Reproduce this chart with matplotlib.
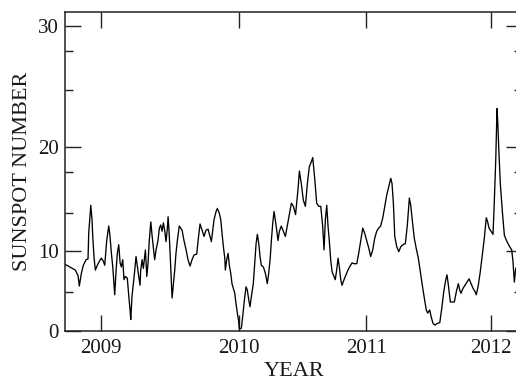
import numpy as np
import matplotlib
matplotlib.use("Agg")
import matplotlib.pyplot as plt
from matplotlib.ticker import FixedLocator, NullLocator

# ---- data (decimal year, sunspot number) ----
years = [
    2008.745, 2008.816, 2008.836, 2008.845, 2008.860, 2008.874, 2008.894, 2008.908,
    2008.913, 2008.928, 2008.937, 2008.942, 2008.952, 2008.961, 2008.975, 2008.990,
    2009.004, 2009.019, 2009.029, 2009.043, 2009.058, 2009.067, 2009.077, 2009.087,
    2009.096, 2009.101, 2009.111, 2009.120, 2009.130, 2009.140, 2009.149, 2009.159,
    2009.168, 2009.178, 2009.192, 2009.202, 2009.212, 2009.217, 2009.226, 2009.236,
    2009.246, 2009.255, 2009.265, 2009.275, 2009.284, 2009.289, 2009.299, 2009.308,
    2009.318, 2009.323, 2009.333, 2009.342, 2009.351, 2009.362, 2009.371, 2009.380,
    2009.390, 2009.400, 2009.414, 2009.424, 2009.434, 2009.443, 2009.453, 2009.463,
    2009.472, 2009.482, 2009.487, 2009.496, 2009.506, 2009.516, 2009.525, 2009.535,
    2009.544, 2009.554, 2009.568, 2009.578, 2009.588, 2009.602, 2009.617, 2009.631,
    2009.646, 2009.660, 2009.675, 2009.694, 2009.704, 2009.718, 2009.733, 2009.747,
    2009.761, 2009.776, 2009.790, 2009.800, 2009.810, 2009.819, 2009.834, 2009.843,
    2009.858, 2009.868, 2009.877, 2009.887, 2009.897, 2009.901, 2009.911, 2009.921,
    2009.930, 2009.940, 2009.949, 2009.959, 2009.969, 2009.978, 2009.988, 2009.998,
    2010.002, 2010.018, 2010.029, 2010.039, 2010.055, 2010.065, 2010.076, 2010.086,
    2010.097, 2010.112, 2010.123, 2010.134, 2010.144, 2010.155, 2010.165, 2010.175,
    2010.191, 2010.207, 2010.222, 2010.233, 2010.244, 2010.254, 2010.265, 2010.275,
    2010.285, 2010.296, 2010.306, 2010.317, 2010.332, 2010.348, 2010.364, 2010.379,
    2010.395, 2010.411, 2010.427, 2010.444, 2010.463, 2010.474, 2010.489, 2010.505,
    2010.521, 2010.537, 2010.552, 2010.568, 2010.579, 2010.595, 2010.610, 2010.626,
    2010.642, 2010.657, 2010.668, 2010.678, 2010.689, 2010.699, 2010.709, 2010.720,
    2010.731, 2010.746, 2010.756, 2010.767, 2010.778, 2010.788, 2010.799, 2010.809,
    2010.825, 2010.840, 2010.856, 2010.872, 2010.888, 2010.903, 2010.925, 2010.940,
    2010.956, 2010.972, 2010.987, 2011.003, 2011.019, 2011.035, 2011.051, 2011.067,
    2011.083, 2011.099, 2011.115, 2011.132, 2011.148, 2011.164, 2011.180, 2011.196,
    2011.206, 2011.217, 2011.228, 2011.244, 2011.260, 2011.276, 2011.292, 2011.313,
    2011.329, 2011.345, 2011.356, 2011.370, 2011.385, 2011.401, 2011.417, 2011.433,
    2011.449, 2011.465, 2011.481, 2011.492, 2011.508, 2011.519, 2011.535, 2011.551,
    2011.567, 2011.589, 2011.605, 2011.621, 2011.637, 2011.647, 2011.658, 2011.674,
    2011.690, 2011.706, 2011.722, 2011.738, 2011.749, 2011.759, 2011.775, 2011.791,
    2011.808, 2011.824, 2011.840, 2011.856, 2011.872, 2011.882, 2011.898, 2011.914,
    2011.930, 2011.946, 2011.962, 2011.973, 2011.984, 2012.000, 2012.016, 2012.026,
    2012.038, 2012.048, 2012.054, 2012.064, 2012.075, 2012.091, 2012.107, 2012.128,
    2012.150, 2012.166, 2012.176, 2012.187, 2012.198, 2012.215,
]
sunspots = [
    8.3, 7.6, 6.9, 5.6, 7.2, 8.2, 8.9, 9.0,
    11.7, 14.4, 13.0, 11.4, 9.1, 7.6, 8.2, 8.7,
    9.1, 8.7, 8.2, 11.0, 12.4, 11.4, 9.7, 8.0,
    5.7, 4.5, 7.6, 9.7, 10.6, 8.5, 8.0, 8.9,
    6.4, 6.8, 6.6, 4.5, 2.6, 1.4, 4.3, 5.9,
    7.6, 9.3, 8.0, 6.8, 5.7, 7.6, 8.9, 7.8,
    9.3, 10.1, 6.8, 8.5, 11.0, 12.8, 11.5, 10.4,
    8.9, 10.1, 11.0, 12.2, 12.5, 11.9, 12.7, 11.9,
    10.9, 12.2, 13.3, 11.4, 8.0, 4.1, 5.7, 7.6,
    9.7, 11.0, 12.4, 12.2, 12.0, 11.0, 10.1, 8.9,
    8.1, 8.9, 9.5, 9.6, 11.0, 12.6, 12.0, 11.4,
    12.0, 12.1, 11.4, 10.9, 12.0, 13.0, 13.8, 14.1,
    13.6, 13.0, 11.7, 10.4, 9.1, 7.6, 8.9, 9.7,
    8.2, 7.2, 5.9, 5.3, 4.7, 3.4, 2.2, 1.1,
    0.2, 0.3, 1.8, 3.4, 5.5, 5.1, 3.9, 3.0,
    4.3, 5.9, 8.5, 10.7, 11.6, 10.7, 9.3, 8.2,
    8.0, 7.2, 5.9, 7.2, 8.9, 11.0, 12.7, 13.8,
    13.0, 12.0, 11.0, 11.9, 12.4, 11.9, 11.4, 12.4,
    13.5, 14.6, 14.3, 13.5, 15.9, 17.7, 16.5, 14.9,
    14.3, 16.5, 18.1, 18.6, 19.0, 16.9, 14.6, 14.3,
    14.3, 12.4, 10.1, 13.0, 14.4, 12.4, 11.0, 8.9,
    7.4, 6.8, 6.4, 7.6, 9.1, 8.0, 6.4, 5.7,
    6.4, 7.0, 7.6, 8.1, 8.5, 8.4, 8.4, 9.7,
    11.0, 12.2, 11.7, 11.0, 10.3, 9.3, 10.1, 11.2,
    11.9, 12.2, 12.4, 13.2, 14.3, 15.4, 16.2, 17.0,
    16.5, 14.6, 11.4, 10.4, 9.9, 10.4, 10.6, 10.7,
    12.5, 15.1, 14.4, 12.8, 11.2, 10.2, 9.1, 7.4,
    5.7, 4.1, 2.6, 2.2, 2.6, 1.8, 0.9, 0.7,
    0.9, 1.0, 2.8, 4.9, 6.4, 7.0, 5.7, 3.6,
    3.6, 3.6, 4.9, 5.9, 5.1, 4.7, 5.3, 5.7,
    6.1, 6.5, 5.9, 5.3, 4.9, 4.5, 5.7, 7.4,
    9.5, 11.2, 13.2, 12.8, 12.2, 11.9, 11.6, 14.6,
    18.8, 23.2, 22.1, 19.3, 16.4, 13.8, 11.5, 10.9,
    10.4, 10.1, 8.7, 6.1, 7.8, 8.2,
]

x_ticks = [2009, 2010, 2011, 2012]
x_tick_labels = ["2009", "2010", "2011", "2012"]
y_ticks = [0, 10, 20, 30]
y_tick_labels = ["0", "10", "20", "30"]
y_minor_ticks = [4.9, 13.7, 17.6, 24.7, 28.0]

# ---- scales that follow the (slightly uneven) spacing of the reference axes ----
xs_val = np.array([2008.0, 2009.0, 2010.0, 2011.0, 2012.0, 2013.0])
xs_pos = np.array([-37.6, 100.7, 239.0, 366.3, 491.0, 615.7])
ys_val = np.array([-10.0, 0.0, 10.0, 20.0, 30.0, 40.0])
ys_pos = np.array([-79.7, 0.0, 79.7, 183.4, 304.0, 424.6])

def xf(v):
    return np.interp(v, xs_val, xs_pos)

def xi(p):
    return np.interp(p, xs_pos, xs_val)

def yf(v):
    return np.interp(v, ys_val, ys_pos)

def yi(p):
    return np.interp(p, ys_pos, ys_val)

plt.rcParams["font.family"] = ["Liberation Serif", "DejaVu Serif"]

fig = plt.figure(figsize=(5.16, 3.82), dpi=100)
ax = fig.add_axes([0.1269, 0.1343, 0.8851, 0.8343])
ax.set_xscale("function", functions=(xf, xi))
ax.set_yscale("function", functions=(yf, yi))

ax.plot(years, sunspots, color="black", lw=0.95)

ax.set_xlim(2008.745, 2012.25)
ax.set_ylim(0, 31.2)

ax.xaxis.set_major_locator(FixedLocator(x_ticks))
ax.set_xticklabels(x_tick_labels)
ax.xaxis.set_minor_locator(NullLocator())
ax.yaxis.set_major_locator(FixedLocator(y_ticks))
ax.set_yticklabels(y_tick_labels)
ax.yaxis.set_minor_locator(FixedLocator(y_minor_ticks))

ax.tick_params(which="both", direction="in", top=True, right=True,
               colors="#222222", labelcolor="#1a1a1a", labelsize=15)
ax.tick_params(which="major", length=11.5, width=1.0)
ax.tick_params(which="minor", length=5.8, width=1.0)
ax.tick_params(axis="x", pad=6)
ax.tick_params(axis="y", pad=5)

for s in ax.spines.values():
    s.set_linewidth(1.1)
    s.set_color("#222222")

ax.set_xlabel("YEAR", fontsize=16, labelpad=3, color="#1a1a1a")
ax.set_ylabel("SUNSPOT NUMBER", fontsize=16, labelpad=4, color="#1a1a1a")

fig.savefig("out.png", dpi=100)
